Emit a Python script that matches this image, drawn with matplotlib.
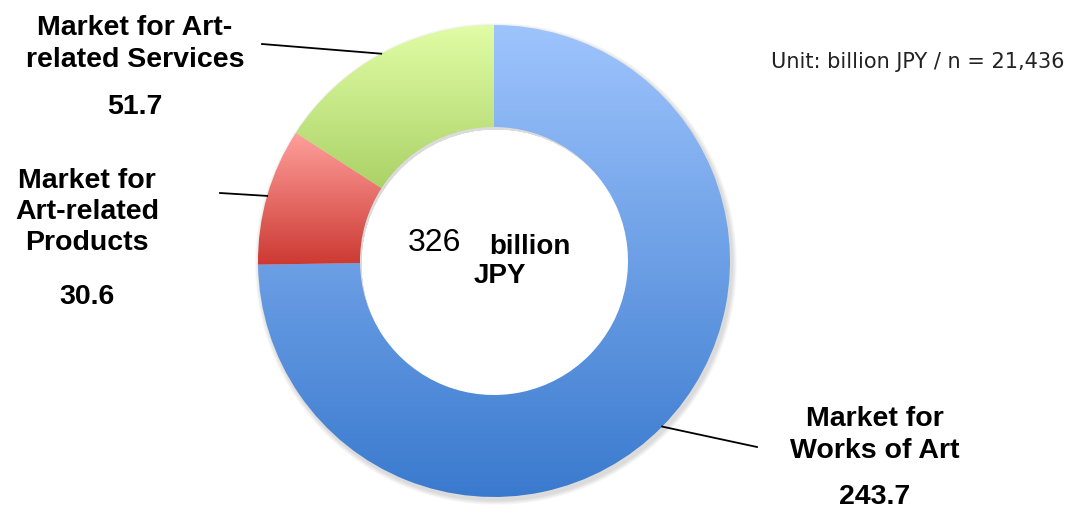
import numpy as np
import matplotlib
matplotlib.use("Agg")
import matplotlib.pyplot as plt
from matplotlib.colors import to_rgb

# data
segments = ["Market for\nWorks of Art", "Market for\nArt-related\nProducts", "Market for Art-\nrelated Services"]
values = [243.7, 30.6, 51.7]
value_labels = ["243.7", "30.6", "51.7"]
total_label = "326"
unit_note = "Unit: billion JPY / n = 21,436"

# gradient colours (top -> bottom) for each wedge
grad_top = ["#9ec4fd", "#ff9f9b", "#e1fda6"]
grad_bottom = ["#3a7ace", "#cc3932", "#abd267"]

W, H = 1079, 520
cx, cy = 494, H - 261
r_out, r_in = 236, 134

plt.rcParams["font.family"] = ["Liberation Sans", "DejaVu Sans"]
fig = plt.figure(figsize=(W / 100, H / 100), dpi=100)
ax = fig.add_axes([0, 0, 1, 1])

# soft shadow towards bottom right
for k in range(6):
    sh = plt.Circle((cx + 2, cy - 3), r_out + 1 + k * 0.8, color="#000000", alpha=0.025, lw=0)
    ax.add_patch(sh)
    ax.add_patch(plt.Circle((cx + 2, cy - 3), r_in, color="white", lw=0, zorder=1.5))

wedges, _ = ax.pie(values, center=(cx, cy), radius=r_out, startangle=90, counterclock=False,
                   wedgeprops=dict(width=r_out - r_in, edgecolor="none", linewidth=0))

for w, top, bot in zip(wedges, grad_top, grad_bottom):
    w.set_facecolor("none")
    bb = w.get_path().get_extents()
    t = np.linspace(0, 1, 256)[:, None]
    c0, c1 = np.array(to_rgb(bot)), np.array(to_rgb(top))
    img = (c0 * (1 - t) + c1 * t)[:, None, :]
    im = ax.imshow(img, extent=[bb.x0, bb.x1, bb.y0, bb.y1], origin="lower",
                   aspect="auto", interpolation="bilinear", zorder=2)
    im.set_clip_path(w)

# label layout: (text x, text y centre, value y, line end x, line end y)
label_pos = [(875, 435, 497, 757, 447), (87, 212, 297, 220, 193), (135, 44, 107, 262, 44)]
for w, name, val, (tx, ty, vy, lx, ly) in zip(wedges, segments, value_labels, label_pos):
    mid = np.deg2rad((w.theta1 + w.theta2) / 2)
    px, py = cx + r_out * np.cos(mid), cy + r_out * np.sin(mid)
    ax.plot([px, lx], [py, H - ly], color="black", lw=1.3, zorder=3)
    ax.text(tx, H - ty, name, ha="center", va="center", fontsize=20.5, fontweight="bold",
            linespacing=1.27)
    ax.text(tx, H - vy, val, ha="center", va="center", fontsize=20.5, fontweight="bold")

# centre
ax.text(434, H - 243, total_label, ha="center", va="center", fontsize=23)
ax.text(530, H - 247, "billion", ha="center", va="center", fontsize=20, fontweight="bold")
ax.text(500, H - 276, "JPY", ha="center", va="center", fontsize=20, fontweight="bold")

ax.text(918, H - 62, unit_note, ha="center", va="center", fontsize=15, family="DejaVu Sans",
        color="#222222")

ax.set_xlim(0, W)
ax.set_ylim(0, H)
ax.set_aspect("equal")
ax.axis("off")
fig.savefig("out.png", dpi=100)
